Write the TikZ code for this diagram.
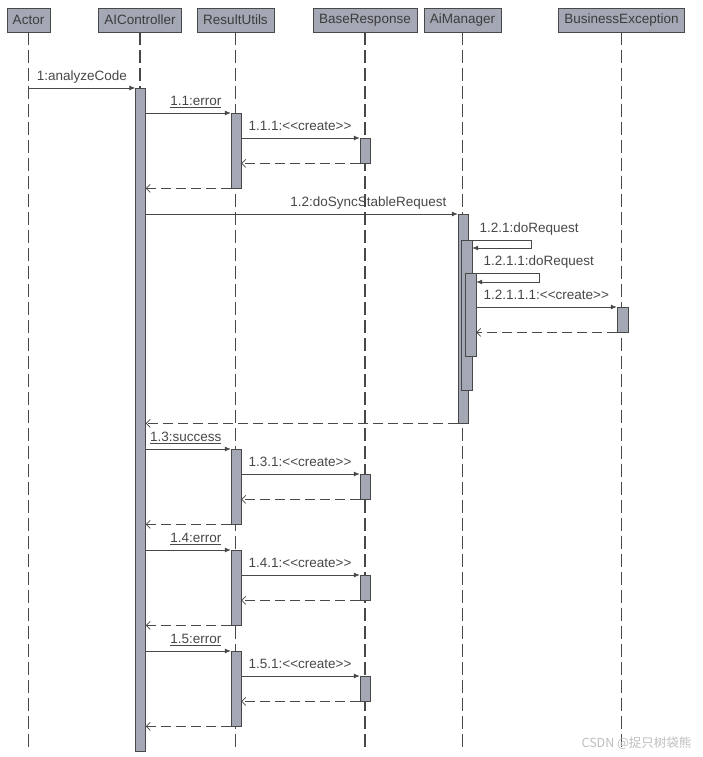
\documentclass[tikz,border=0pt]{standalone}
\usepackage{fontspec}
\newfontfamily\umlfont{Liberation Sans}
\newfontfamily\cjkfont{Noto Sans CJK SC}
\usepackage{xcolor}
\definecolor{boxgray}{RGB}{163, 168, 180}
\definecolor{linegray}{RGB}{72, 72, 72}
\definecolor{textgray}{RGB}{60, 60, 60}
\definecolor{markgray}{RGB}{190, 190, 190}
\usepackage{tikz}
\usetikzlibrary{arrows.meta, positioning, calc}

\begin{document}
\begin{tikzpicture}[x=1pt, y=-1pt, >=Stealth,
    font=\umlfont\fontsize{13.5}{16}\selectfont, text=textgray,
    head/.style={draw=linegray, fill=boxgray, minimum height=24pt, inner xsep=6pt, inner ysep=0pt},
    bar/.style={draw=linegray, fill=boxgray, minimum width=10pt, anchor=north, inner sep=0pt},
    lifeline/.style={linegray, line width=1.2pt, dash pattern=on 13pt off 5pt},
    call/.style={linegray, line width=0.8pt, -{Latex[length=6pt,width=5pt]}},
    reply/.style={linegray, line width=0.8pt, dash pattern=on 10pt off 5pt, -{Straight Barb[length=4pt,width=8pt]}},
    msg/.style={inner sep=0pt, yshift=7.5pt}]
    \fill[white] (0,0) rectangle (703,757);
    \useasboundingbox (0,0) rectangle (703,757);

    % lifelines
    \node[head] (actor) at (28.5,20) {Actor};
    \node[head] (ctrl) at (140,20) {AIController};
    \node[head] (utils) at (235.5,20) {ResultUtils};
    \node[head] (resp) at (365,20) {BaseResponse};
    \node[head] (mgr) at (462.5,20) {AiManager};
    \node[head] (bizex) at (621.5,20) {BusinessException};
    \coordinate (bottom) at (0,752);
    \foreach \who in {actor,ctrl,utils,resp,mgr,bizex}
        \draw[lifeline] (\who.south) -- (\who |- bottom);

    \node[bar, minimum height=663pt] (ctrlbar) at (140.5,88) {};
    \draw[call] (actor |- ctrlbar.north) -- (ctrlbar.north west) node[msg, midway, anchor=base] {1:analyzeCode};

    % ResultUtils calls
    \foreach \y/\idx/\what in {113/1/error, 449/3/success, 550/4/error, 651/5/error}{
        \node[bar, minimum height=75pt] (utils\idx) at (236,\y) {};
        \node[bar, minimum height=25pt] (resp\idx) at (365,\y+25) {};
        \draw[call] (ctrlbar.east |- utils\idx.north) -- (utils\idx.north west)
            node[msg, pos=1, anchor=base east, xshift=-9pt] {\underline{1.\idx:\what}};
        \draw[call] (utils\idx.east |- resp\idx.north) -- (resp\idx.north west)
            node[msg, pos=0, anchor=base west, xshift=7pt] {1.\idx.1:<{}<create>{}>};
        \draw[reply] (resp\idx.south west) -- (utils\idx.east |- resp\idx.south);
        \draw[reply] (utils\idx.south west) -- (ctrlbar.east |- utils\idx.south);
    }

    % AiManager
    \node[bar, minimum height=209pt] (mgrbar) at (463,214) {};
    \node[bar, minimum height=150pt, minimum width=11pt] (mgrbarB) at (466.5,240) {};
    \node[bar, minimum height=83pt, minimum width=11pt] (mgrbarC) at (470.5,273) {};
    \node[bar, minimum height=25pt, minimum width=11pt] (bizexbar) at (622.5,307) {};
    \draw[call] (ctrlbar.east |- mgrbar.north) -- (mgrbar.north west)
        node[msg, pos=1, anchor=base east, xshift=-11pt] {1.2:doSyncStableRequest};
    \draw[call] (mgrbar.east |- mgrbarB.north) node[msg, anchor=base west, xshift=11pt] {1.2.1:doRequest}
        -| ++(63,8) -- ($(mgrbarB.north east)+(0,8)$);
    \draw[call] (mgrbarB.east |- mgrbarC.north) node[msg, anchor=base west, xshift=11pt] {1.2.1.1:doRequest}
        -| ++(67,9) -- ($(mgrbarC.north east)+(0,9)$);
    \draw[call] (mgrbarC.east |- bizexbar.north) -- (bizexbar.north west)
        node[msg, pos=0, anchor=base west, xshift=7pt] {1.2.1.1.1:<{}<create>{}>};
    \draw[reply] (bizexbar.south west) -- (mgrbarC.east |- bizexbar.south);
    \draw[reply] (mgrbar.south west) -- (ctrlbar.east |- mgrbar.south);

    \node[font=\cjkfont\fontsize{12.5}{14}\selectfont, text=markgray, anchor=east] (mark) at (695,743) {CSDN @捉只树袋熊};
\end{tikzpicture}
\end{document}
